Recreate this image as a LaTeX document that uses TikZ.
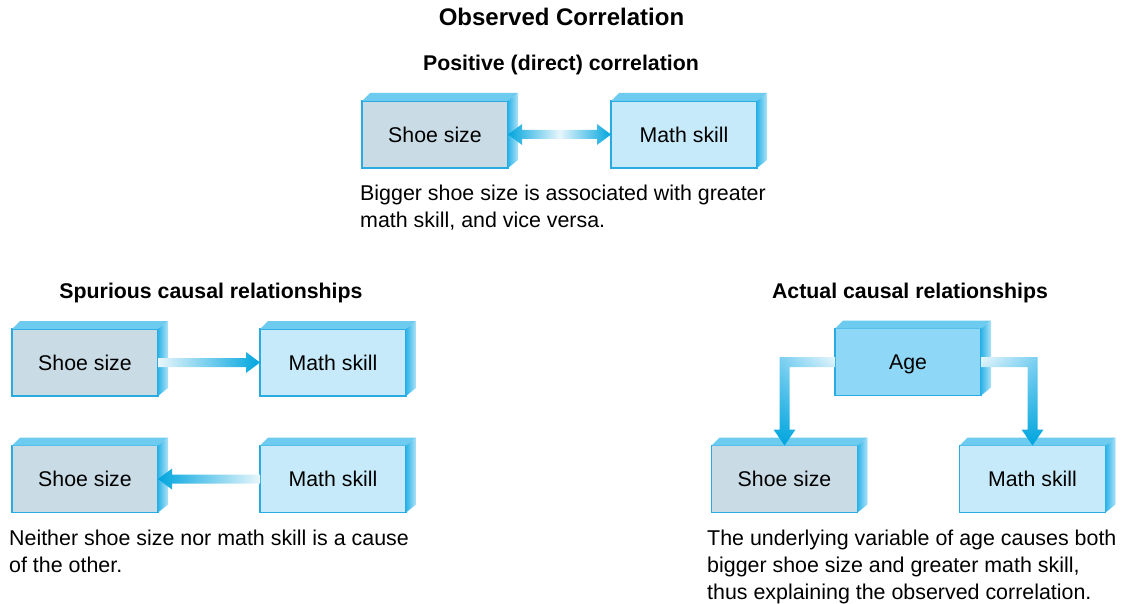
\documentclass[tikz,border=0pt]{standalone}
\usepackage{fontspec}
\setmainfont{Liberation Sans}
\usetikzlibrary{calc,shadings}
\definecolor{bordc}{RGB}{41,171,226}
\definecolor{shoec}{RGB}{201,220,230}
\definecolor{mathc}{RGB}{198,234,250}
\definecolor{agec}{RGB}{142,215,246}
\definecolor{topc}{RGB}{110,203,240}
\definecolor{sidedark}{RGB}{45,180,232}
\definecolor{sidelight}{RGB}{175,226,248}
\definecolor{arrdark}{RGB}{0,165,222}
\definecolor{arrlight}{RGB}{232,246,252}
\tikzset{
  cbox/.style={draw=bordc, line width=1.6pt, minimum width=146pt, minimum height=67pt, inner sep=0pt, outer sep=0pt, text height=15.4pt, text depth=0pt, font=\fontsize{21.3}{25}\selectfont},
  heading/.style={font=\fontsize{21.3}{25}\selectfont\bfseries, inner sep=0pt, anchor=base},
  bodytext/.style={font=\fontsize{21.4}{27}\selectfont, align=left, inner sep=0pt, anchor=base west}
}
\newcommand{\extrude}[1]{%
  \fill[topc] (#1.north west) -- ++(8,-8) -- ($(#1.north east)+(10,-8)$) -- (#1.north east) -- cycle;
  \shade[left color=sidedark, right color=sidelight] (#1.north east) -- ++(10,-8) -- ($(#1.south east)+(10,-8)$) -- (#1.south east) -- cycle;
}
\begin{document}
\begin{tikzpicture}[x=1pt, y=-1pt]
\useasboundingbox (0,0) rectangle (1121,604);
% titles
\node[heading, font=\fontsize{24}{28}\selectfont\bfseries] (title) at (561.5,26) {Observed Correlation};
\node[heading] (sub) at (561,71) {Positive (direct) correlation};
\node[heading] (spur) at (211,298) {Spurious causal relationships};
\node[heading] (act) at (910,298) {Actual causal relationships};
% boxes
\node[cbox, fill=shoec] (s0) at (435,134.5) {Shoe size};
\node[cbox, fill=mathc] (m0) at (684,134.5) {Math skill};
\node[cbox, fill=shoec] (s1) at (85,362.5) {Shoe size};
\node[cbox, fill=mathc] (m1) at (333,362.5) {Math skill};
\node[cbox, fill=shoec] (s2) at (85,479) {Shoe size};
\node[cbox, fill=mathc] (m2) at (333,479) {Math skill};
\node[cbox, fill=agec] (age) at (908,362) {Age};
\node[cbox, fill=shoec] (ss) at (784.5,479) {Shoe size};
\node[cbox, fill=mathc] (ms) at (1032.5,479) {Math skill};
\extrude{s0}\extrude{m0}\extrude{s1}\extrude{m1}\extrude{s2}\extrude{m2}\extrude{age}\extrude{ss}\extrude{ms}
% double arrow
\shade[left color=arrdark, right color=arrdark, middle color=arrlight]
  (s0.east) -- ($(s0.east)+(14,-10.5)$) -- ($(s0.east)+(14,-4.5)$) -- ($(m0.west)+(-14,-4.5)$) -- ($(m0.west)+(-14,-10.5)$) -- (m0.west)
  -- ($(m0.west)+(-14,10.5)$) -- ($(m0.west)+(-14,4.5)$) -- ($(s0.east)+(14,4.5)$) -- ($(s0.east)+(14,10.5)$) -- cycle;
% right arrow
\shade[left color=arrlight, right color=arrdark]
  ($(s1.east)+(0,-4.5)$) -- ($(m1.west)+(-14,-4.5)$) -- ($(m1.west)+(-14,-10.5)$) -- (m1.west)
  -- ($(m1.west)+(-14,10.5)$) -- ($(m1.west)+(-14,4.5)$) -- ($(s1.east)+(0,4.5)$) -- cycle;
% left arrow
\shade[left color=arrdark, right color=arrlight]
  ($(m2.west)+(0,-4.5)$) -- ($(s2.east)+(14,-4.5)$) -- ($(s2.east)+(14,-10.5)$) -- (s2.east)
  -- ($(s2.east)+(14,10.5)$) -- ($(s2.east)+(14,4.5)$) -- ($(m2.west)+(0,4.5)$) -- cycle;
% elbow arrows
\shade[upper right=arrlight, upper left=topc, lower left=arrdark, lower right=arrdark]
  ($(age.west)+(0,-5)$) -| ($(ss.north)+(-5,-16)$) -- ++(-6,0) -- (ss.north) -- ++(11,-16) -- ++(-6,0) |- ($(age.west)+(0,5)$) -- cycle;
\shade[upper left=arrlight, upper right=topc, lower left=arrdark, lower right=arrdark]
  ($(age.east)+(0,-5)$) -| ($(ms.north)+(5,-16)$) -- ++(6,0) -- (ms.north) -- ++(-11,-16) -- ++(6,0) |- ($(age.east)+(0,5)$) -- cycle;
% texts (base anchor = baseline of last line)
\node[bodytext] (t1) at (360,227) {Bigger shoe size is associated with greater\\math skill, and vice versa.};
\node[bodytext] (t2) at (9,572) {Neither shoe size nor math skill is a cause\\of the other.};
\node[bodytext] (t3) at (707,599) {The underlying variable of age causes both\\bigger shoe size and greater math skill,\\thus explaining the observed correlation.};
\end{tikzpicture}
\end{document}
